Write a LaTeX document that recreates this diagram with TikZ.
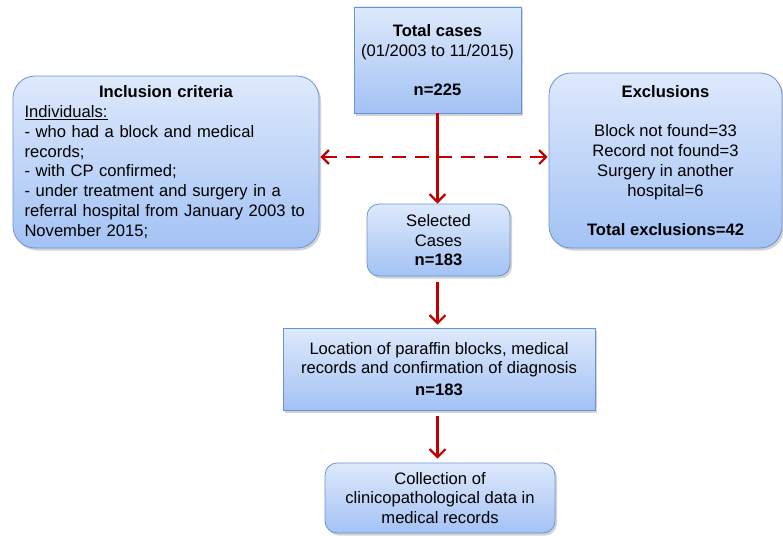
\documentclass[tikz,border=0pt]{standalone}
\usepackage{fontspec}
\setmainfont{Liberation Sans}
\usepackage{tikz}
\usetikzlibrary{arrows.meta,calc,positioning,shadows}

\definecolor{boxtop}{RGB}{222,233,252}
\definecolor{boxbot}{RGB}{163,194,244}
\definecolor{boxline}{RGB}{104,148,214}
\definecolor{arrred}{RGB}{192,0,0}

\begin{document}
\begin{tikzpicture}[
    x=1pt, y=-1pt,
    font=\fontsize{16.6}{19.8}\selectfont,
    box/.style={draw=boxline, line width=0.8pt, top color=boxtop, bottom color=boxbot,
      align=center, inner sep=0pt,
      drop shadow={opacity=0.35, shadow xshift=2pt, shadow yshift=-2.5pt}},
    rbox/.style={box, rounded corners=12pt},
    arr/.style={-{Straight Barb[length=8pt,width=16pt,line width=2.2pt]}, line width=2.4pt, draw=arrred},
    dasharr/.style={{Straight Barb[length=7pt,width=14pt,line width=2.2pt]}-{Straight Barb[length=7pt,width=14pt,line width=2.2pt]},
      line width=2.4pt, draw=arrred, dash pattern=on 14pt off 9pt},
  ]
    \useasboundingbox (0,0) rectangle (783,535);

    \node[box, minimum width=167pt, minimum height=106pt] (total) at (437.5,60) {
      \textbf{Total cases}\\
      (01/2003 to 11/2015)\\[19.8pt]
      \textbf{n=225}
    };

    \node[rbox, rounded corners=22pt, minimum width=306pt, minimum height=172pt,
      text width=283pt, inner xsep=11.5pt, align=left] (incl) at (166,162) {
      \makebox[\linewidth]{\textbf{Inclusion criteria}}\\
      \underline{Individuals:}\\
      - who had a block and medical\\
      records;\\
      - with CP confirmed;\\
      - under treatment and surgery in a\\
      referral hospital from January 2003 to\\
      November 2015;
    };

    \node[rbox, rounded corners=22pt, minimum width=233pt, minimum height=175pt] (excl) at (665.5,160.5) {
      \textbf{Exclusions}\\[19.8pt]
      Block not found=33\\
      Record not found=3\\
      Surgery in another\\
      hospital=6\\[19.8pt]
      \textbf{Total exclusions=42}
    };

    \node[rbox, minimum width=143pt, minimum height=72pt] (sel) at (438.5,240) {
      Selected\\
      Cases\\[-1pt]
      \textbf{n=183}
    };

    \node[box, minimum width=312pt, minimum height=82pt] (loc) at (439,369) {
      Location of paraffin blocks, medical\\
      records and confirmation of diagnosis\\[2pt]
      \textbf{n=183}
    };

    \node[rbox, minimum width=230pt, minimum height=70pt] (coll) at (440,498) {
      Collection of\\
      clinicopathological data in\\
      medical records
    };

    \coordinate (mid) at (437.5,157);

    \draw[arr] (total.south) -- (total.south |- sel.north);
    \draw[arr, shorten <=6pt, shorten >=3pt] (total.south |- sel.south) -- (total.south |- loc.north);
    \draw[arr, shorten <=6pt, shorten >=4pt] (total.south |- loc.south) -- (total.south |- coll.north);

    \draw[dasharr, shorten <=1pt, shorten >=1pt] (mid -| incl.east) -- (mid -| excl.west);
  \end{tikzpicture}
\end{document}
